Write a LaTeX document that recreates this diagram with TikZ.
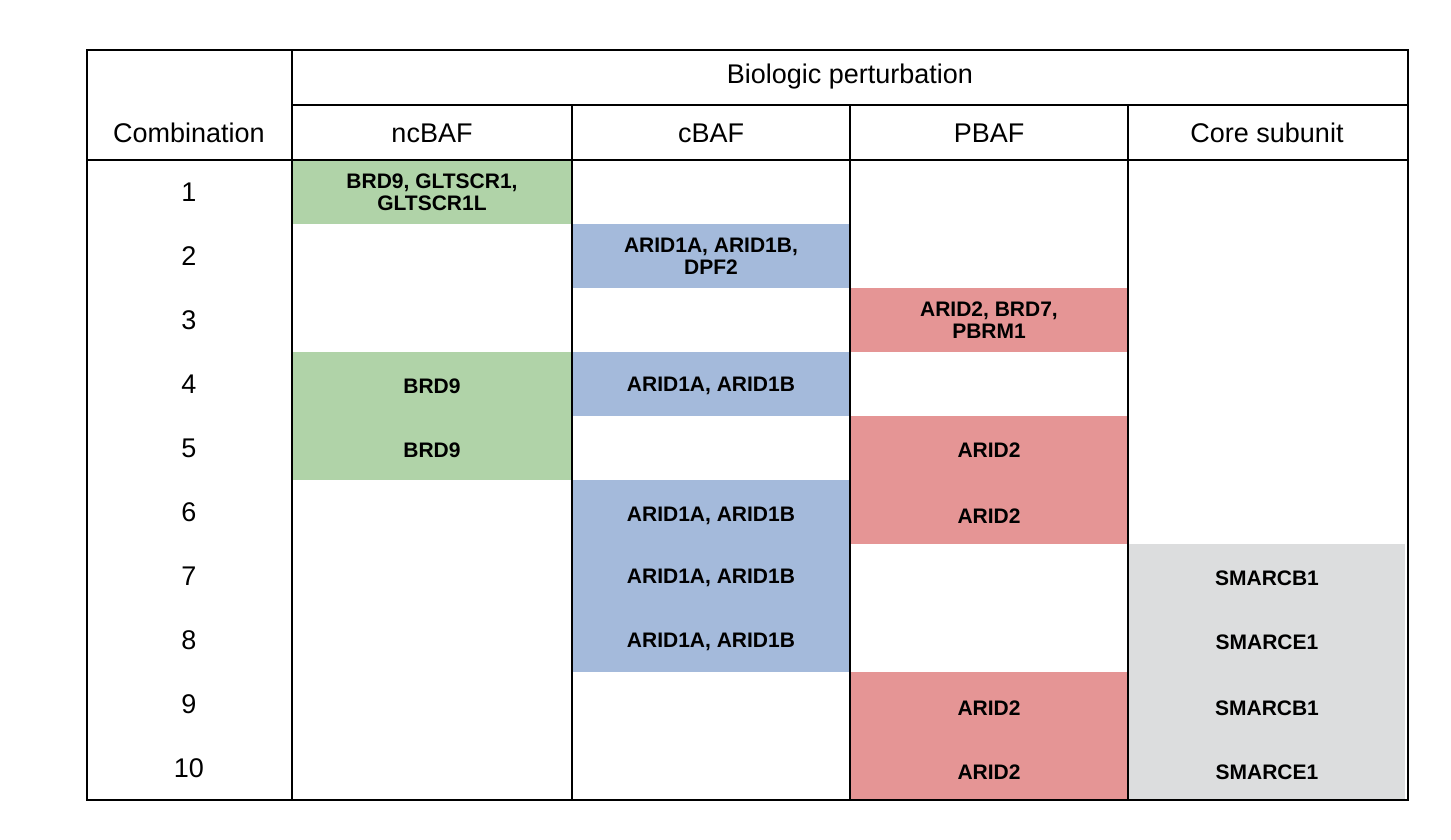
\documentclass[tikz,border=0pt]{standalone}
\usepackage{fontspec}
\setmainfont{Liberation Sans}
\definecolor{ncgreen}{RGB}{176,211,168}
\definecolor{cblue}{RGB}{164,186,219}
\definecolor{pred}{RGB}{229,149,149}
\definecolor{coregray}{RGB}{220,221,222}
\begin{document}
\begin{tikzpicture}[x=1pt,y=-1pt]
 \tikzset{head cell/.style={font=\fontsize{27}{30}\selectfont, anchor=center}, }
 \tikzset{gene cell/.style={font=\bfseries\fontsize{21}{22}\selectfont, align=center, anchor=center}, }
 \tikzset{rule/.style={line width=1.4pt, black}, }
 \useasboundingbox (0,0) rectangle (1451,840);
 % coloured cells: x0/x1/from row/to row/colour
 \foreach \xa/\xb/\ra/\rb/\c in {292/572/0/1/ncgreen,292/572/3/5/ncgreen,
   572/850/1/2/cblue,572/850/3/4/cblue,572/850/5/8/cblue,
   850/1128/2/3/pred,850/1128/4/6/pred,850/1128/8/10/pred,
   1128/1405/6/10/coregray}
 \fill[\c] (\xa,160+64*\ra) rectangle (\xb,160+64*\rb);
 %% lines
 \draw[rule] (87,50) rectangle (1408,800);
 \draw[rule] (292,105) -- (1408,105);
 \draw[rule] (87,160) -- (1408,160);
 \foreach \x in {292,572,850,1128}
 \draw[rule] (\x,\ifnum\x=292 50\else 105\fi) -- (\x,800);
 %% headers
 \node[head cell] (bio) at (850,77) {Biologic perturbation};
 \node[head cell] (comb) at (189,133) {Combination};
 \node[head cell] (nc) at (432,133) {ncBAF};
 \node[head cell] (cb) at (711,133) {cBAF};
 \node[head cell] (pb) at (989,133) {PBAF};
 \node[head cell] (core) at (1267,133) {Core subunit};
 \foreach \i in {1,...,10}
 \node[head cell] (n\i) at (189,128+64*\i) {\i};
 %% genes
 \node[gene cell] (g1) at (432,192) {BRD9, GLTSCR1,\\GLTSCR1L};
 \node[gene cell] (g2) at (711,256) {ARID1A, ARID1B,\\DPF2};
 \node[gene cell] (g3) at (989,320) {ARID2, BRD7,\\PBRM1};
 \node[gene cell] (g4a) at (432,386) {BRD9};
 \node[gene cell] (g4b) at (711,386) {ARID1A, ARID1B};
 \node[gene cell] (g5a) at (432,450) {BRD9};
 \node[gene cell] (g5b) at (989,450) {ARID2};
 \node[gene cell] (g6a) at (711,516) {ARID1A, ARID1B};
 \node[gene cell] (g6b) at (989,516) {ARID2};
 \node[gene cell] (g7a) at (711,578) {ARID1A, ARID1B};
 \node[gene cell] (g7b) at (1267,578) {SMARCB1};
 \node[gene cell] (g8a) at (711,642) {ARID1A, ARID1B};
 \node[gene cell] (g8b) at (1267,642) {SMARCE1};
 \node[gene cell] (g9a) at (989,708) {ARID2};
 \node[gene cell] (g9b) at (1267,708) {SMARCB1};
 \node[gene cell] (g10a) at (989,772) {ARID2};
 \node[gene cell] (g10b) at (1267,772) {SMARCE1};
\end{tikzpicture}
\end{document}
